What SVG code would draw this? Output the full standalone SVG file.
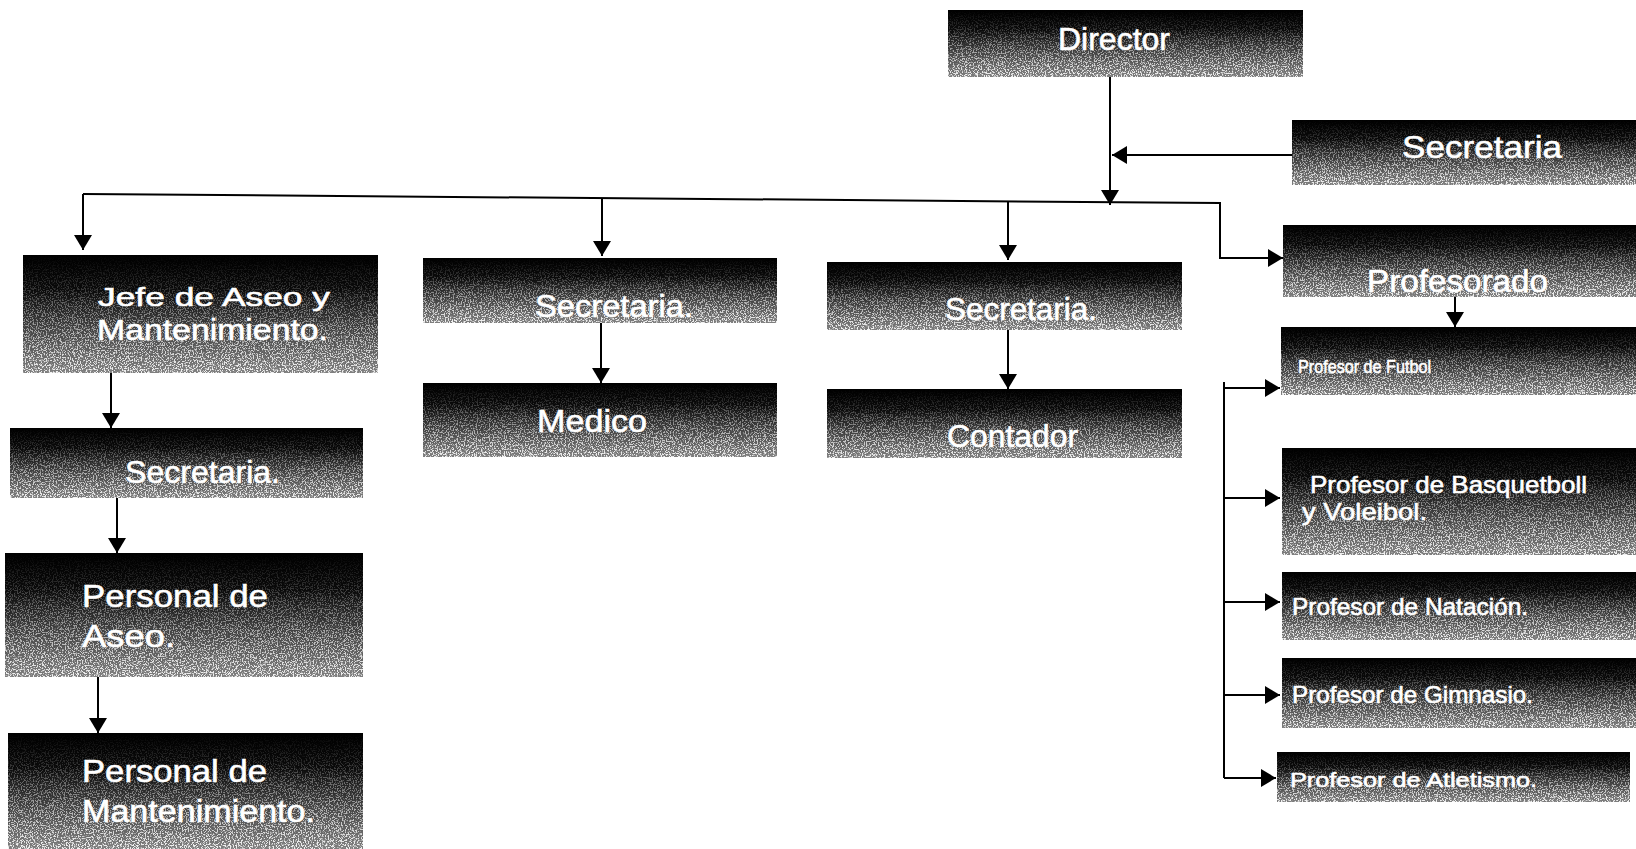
<svg xmlns="http://www.w3.org/2000/svg" width="1636" height="849" viewBox="0 0 1636 849">
<style>
.box{fill:url(#shade);}
.grain{fill:url(#fade);filter:url(#speck);}
.lbl{font-family:"Liberation Sans",Arial,sans-serif;fill:#fff;stroke:#fff;stroke-width:0.6;}
.big{font-size:32px;}
.mid{font-size:24px;}
.sm{font-size:19px;}
.con{fill:none;stroke:#000;stroke-width:2;}
.arr{marker-end:url(#ah);}
</style>
<defs>
<linearGradient id="shade" x1="0" y1="0" x2="0" y2="1">
<stop offset="0" stop-color="#000"/>
<stop offset="0.3" stop-color="#0a0a0a"/>
<stop offset="1" stop-color="#808080"/>
</linearGradient>
<linearGradient id="fade" x1="0" y1="0" x2="0" y2="1">
<stop offset="0" stop-color="#fff" stop-opacity="0"/>
<stop offset="0.25" stop-color="#fff" stop-opacity="0.15"/>
<stop offset="1" stop-color="#fff" stop-opacity="0.9"/>
</linearGradient>
<filter id="speck" x="0" y="0" width="1" height="1" color-interpolation-filters="sRGB">
<feTurbulence type="fractalNoise" baseFrequency="0.75" numOctaves="2" seed="4" result="n"/>
<feColorMatrix in="n" type="matrix" values="0 0 0 0 1  0 0 0 0 1  0 0 0 0 1  8 0 0 0 -3.9" result="w"/>
<feComposite in="w" in2="SourceGraphic" operator="in"/>
</filter>
<marker id="ah" viewBox="0 0 15 18" refX="15" refY="9" markerWidth="15" markerHeight="18" markerUnits="userSpaceOnUse" orient="auto">
<path d="M0,0 L15,9 L0,18 Z" fill="#000"/>
</marker>
</defs>
<rect width="1636" height="849" fill="#fff"/>

<g id="connectors">
<path class="con arr" d="M1110,77 L1110,205"/>
<path class="con arr" d="M1292,155 L1112,155"/>
<path class="con" d="M83,194 L1220,203 L1220,258 L1268,258"/>
<path class="con arr" d="M83,194 L83,250"/>
<path class="con arr" d="M1220,258 L1283,258"/>
<path class="con arr" d="M602,198 L602,256"/>
<path class="con arr" d="M1008,202 L1008,260"/>
<path class="con arr" d="M111,373 L111,428"/>
<path class="con arr" d="M117,498 L117,553"/>
<path class="con arr" d="M98,677 L98,733"/>
<path class="con arr" d="M601,323 L601,383"/>
<path class="con arr" d="M1008,330 L1008,389"/>
<path class="con arr" d="M1455,297 L1455,327"/>
<path class="con" d="M1224,382 L1224,778"/>
<path class="con arr" d="M1224,388 L1280,388"/>
<path class="con arr" d="M1224,498 L1280,498"/>
<path class="con arr" d="M1224,602 L1280,602"/>
<path class="con arr" d="M1224,695 L1280,695"/>
<path class="con arr" d="M1224,778 L1276,778"/>
</g>

<g id="director">
<rect class="box" x="948" y="10" width="355" height="67"/>
<rect class="grain" x="948" y="10" width="355" height="67"/>
<text class="lbl big" x="1058" y="50" textLength="112" lengthAdjust="spacingAndGlyphs">Director</text>
</g>

<g id="secretaria-director">
<rect class="box" x="1292" y="120" width="344" height="65"/>
<rect class="grain" x="1292" y="120" width="344" height="65"/>
<text class="lbl big" x="1402" y="158" textLength="160" lengthAdjust="spacingAndGlyphs">Secretaria</text>
</g>

<g id="jefe-aseo">
<rect class="box" x="23" y="255" width="355" height="118"/>
<rect class="grain" x="23" y="255" width="355" height="118"/>
<text class="lbl" font-size="26" x="98" y="306" textLength="232" lengthAdjust="spacingAndGlyphs">Jefe de Aseo y</text>
<text class="lbl" font-size="29" x="97" y="340" textLength="231" lengthAdjust="spacingAndGlyphs">Mantenimiento.</text>
</g>

<g id="secretaria-medico">
<rect class="box" x="423" y="258" width="354" height="65"/>
<rect class="grain" x="423" y="258" width="354" height="65"/>
<text class="lbl big" x="535" y="317" textLength="158" lengthAdjust="spacingAndGlyphs">Secretaria.</text>
</g>

<g id="medico">
<rect class="box" x="423" y="383" width="354" height="74"/>
<rect class="grain" x="423" y="383" width="354" height="74"/>
<text class="lbl big" x="537" y="432" textLength="110" lengthAdjust="spacingAndGlyphs">Medico</text>
</g>

<g id="secretaria-contador">
<rect class="box" x="827" y="262" width="355" height="68"/>
<rect class="grain" x="827" y="262" width="355" height="68"/>
<text class="lbl big" x="945" y="320" textLength="152" lengthAdjust="spacingAndGlyphs">Secretaria.</text>
</g>

<g id="contador">
<rect class="box" x="827" y="389" width="355" height="69"/>
<rect class="grain" x="827" y="389" width="355" height="69"/>
<text class="lbl big" x="947" y="447" textLength="131" lengthAdjust="spacingAndGlyphs">Contador</text>
</g>

<g id="profesorado">
<rect class="box" x="1283" y="225" width="353" height="72"/>
<rect class="grain" x="1283" y="225" width="353" height="72"/>
<text class="lbl big" x="1367" y="292" textLength="181" lengthAdjust="spacingAndGlyphs">Profesorado</text>
</g>

<g id="prof-futbol">
<rect class="box" x="1281" y="327" width="355" height="68"/>
<rect class="grain" x="1281" y="327" width="355" height="68"/>
<text class="lbl sm" x="1298" y="373" textLength="133" lengthAdjust="spacingAndGlyphs">Profesor de Futbol</text>
</g>

<g id="prof-basquetboll">
<rect class="box" x="1282" y="448" width="354" height="107"/>
<rect class="grain" x="1282" y="448" width="354" height="107"/>
<text class="lbl mid" x="1310" y="493" textLength="277" lengthAdjust="spacingAndGlyphs">Profesor de  Basquetboll</text>
<text class="lbl mid" x="1302" y="520" textLength="125" lengthAdjust="spacingAndGlyphs">y Voleibol.</text>
</g>

<g id="prof-natacion">
<rect class="box" x="1282" y="572" width="354" height="68"/>
<rect class="grain" x="1282" y="572" width="354" height="68"/>
<text class="lbl mid" x="1292" y="615" textLength="236" lengthAdjust="spacingAndGlyphs">Profesor de Natación.</text>
</g>

<g id="prof-gimnasio">
<rect class="box" x="1282" y="658" width="354" height="70"/>
<rect class="grain" x="1282" y="658" width="354" height="70"/>
<text class="lbl mid" x="1292" y="703" textLength="241" lengthAdjust="spacingAndGlyphs">Profesor de Gimnasio.</text>
</g>

<g id="prof-atletismo">
<rect class="box" x="1277" y="752" width="353" height="50"/>
<rect class="grain" x="1277" y="752" width="353" height="50"/>
<text class="lbl" font-size="21" x="1290" y="787" textLength="247" lengthAdjust="spacingAndGlyphs">Profesor de Atletismo.</text>
</g>

<g id="secretaria-aseo">
<rect class="box" x="10" y="428" width="353" height="70"/>
<rect class="grain" x="10" y="428" width="353" height="70"/>
<text class="lbl big" x="125" y="483" textLength="155" lengthAdjust="spacingAndGlyphs">Secretaria.</text>
</g>

<g id="personal-aseo">
<rect class="box" x="5" y="553" width="358" height="124"/>
<rect class="grain" x="5" y="553" width="358" height="124"/>
<text class="lbl big" x="82" y="607" textLength="186" lengthAdjust="spacingAndGlyphs">Personal de</text>
<text class="lbl big" x="82" y="647" textLength="93" lengthAdjust="spacingAndGlyphs">Aseo.</text>
</g>

<g id="personal-mantenimiento">
<rect class="box" x="8" y="733" width="355" height="116"/>
<rect class="grain" x="8" y="733" width="355" height="116"/>
<text class="lbl big" x="82" y="782" textLength="185" lengthAdjust="spacingAndGlyphs">Personal de</text>
<text class="lbl big" x="82" y="822" textLength="233" lengthAdjust="spacingAndGlyphs">Mantenimiento.</text>
</g>
</svg>
